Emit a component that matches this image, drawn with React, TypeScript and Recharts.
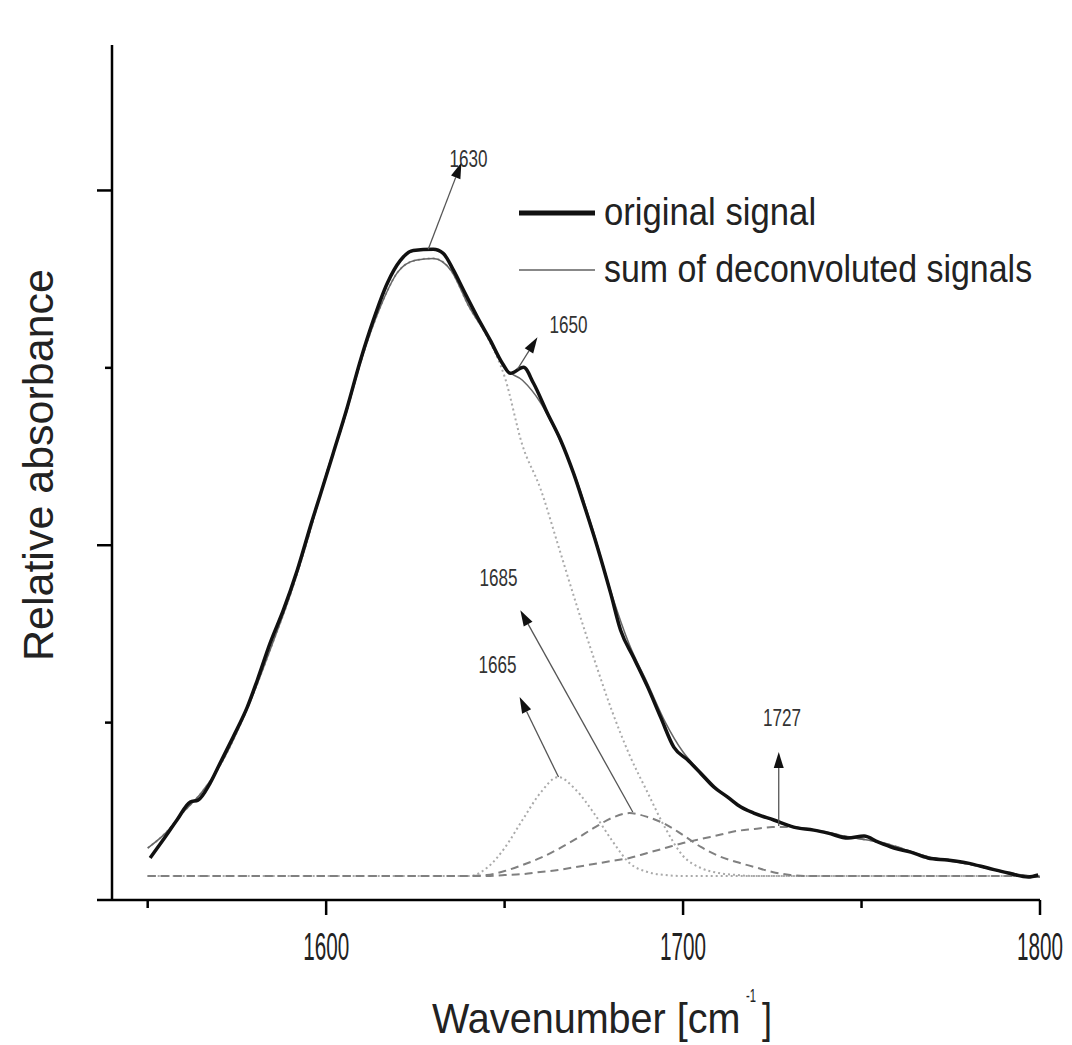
import { Line, LineChart, ReferenceDot, ReferenceLine, XAxis, YAxis } from "recharts";

const originalWn = [
	1550.7, 1554.3, 1558.2, 1561.9, 1564.1, 1567.5, 1570.3, 1573.9, 1577.9, 1580.7,
	1584.3, 1588.0, 1591.9, 1596.1, 1598.3, 1602.0, 1605.9, 1609.6, 1613.2, 1617.1,
	1620.8, 1624.4, 1630.0, 1632.8, 1635.7, 1638.5, 1642.4, 1646.0, 1649.4, 1651.6,
	1655.3, 1658.1, 1662.0, 1665.7, 1669.3, 1672.1, 1676.0, 1679.7, 1682.5, 1686.1,
	1690.1, 1693.7, 1697.4, 1701.3, 1704.9, 1708.6, 1712.5, 1716.2, 1719.8, 1725.4,
	1731.0, 1736.6, 1740.6, 1746.2, 1750.7, 1754.6, 1759.1, 1763.8, 1768.6, 1774.2,
	1779.8, 1785.4, 1791.1, 1796.7, 1799.5,
];
const originalAbs = [
	0.237, 0.338, 0.451, 0.552, 0.563, 0.659, 0.772, 0.918, 1.087, 1.239,
	1.448, 1.634, 1.859, 2.141, 2.28, 2.52, 2.777, 3.042, 3.268, 3.476,
	3.606, 3.662, 3.668, 3.645, 3.549, 3.437, 3.285, 3.155, 3.025, 2.969,
	3.003, 2.913, 2.744, 2.592, 2.406, 2.237, 1.989, 1.73, 1.521, 1.369,
	1.2, 1.031, 0.862, 0.789, 0.715, 0.637, 0.58, 0.524, 0.49, 0.451,
	0.411, 0.394, 0.377, 0.349, 0.361, 0.327, 0.293, 0.27, 0.237, 0.225,
	0.208, 0.18, 0.152, 0.13, 0.141,
];

// fit grid
const wavenumbers = [
	1550, 1555, 1560, 1565, 1570, 1575, 1580, 1585, 1590, 1595,
	1600, 1605, 1610, 1615, 1620, 1625, 1630, 1635, 1640, 1645,
	1650, 1655, 1660, 1665, 1670, 1675, 1680, 1685, 1690, 1695,
	1700, 1705, 1710, 1715, 1720, 1725, 1730, 1735, 1740, 1745,
	1750, 1755, 1760, 1765, 1770, 1775, 1780, 1785, 1790, 1795, 1800,
];
const sumOfBands = [
	0.293, 0.377, 0.496, 0.603, 0.749, 0.946, 1.183, 1.448, 1.724, 2.045,
	2.4, 2.704, 3.054, 3.335, 3.538, 3.606, 3.617, 3.549, 3.346, 3.183,
	2.997, 2.93, 2.806, 2.614, 2.377, 2.068, 1.724, 1.437, 1.223, 1.003,
	0.834, 0.721, 0.62, 0.541, 0.49, 0.451, 0.417, 0.4, 0.383, 0.361,
	0.344, 0.327, 0.299, 0.265, 0.237, 0.22, 0.203, 0.18, 0.158, 0.141, 0.13,
];
const band1630 = [
	0.293, 0.377, 0.496, 0.603, 0.749, 0.946, 1.183, 1.448, 1.724, 2.045,
	2.4, 2.704, 3.054, 3.335, 3.538, 3.606, 3.617, 3.549, 3.346, 3.18,
	2.95, 2.563, 2.321, 2.0, 1.673, 1.363, 1.07, 0.817, 0.608, 0.406,
	0.248, 0.18, 0.152, 0.141, 0.135, 0.135, 0.135, 0.135, 0.135, 0.135,
	0.135, 0.135, 0.135, 0.135, 0.135, 0.135, 0.135, 0.135, 0.135, 0.135, 0.135,
];
const band1665 = [
	0.135, 0.135, 0.135, 0.135, 0.135, 0.135, 0.135, 0.135, 0.135, 0.135,
	0.135, 0.135, 0.135, 0.135, 0.135, 0.135, 0.135, 0.135, 0.135, 0.18,
	0.293, 0.451, 0.603, 0.693, 0.62, 0.49, 0.338, 0.208, 0.158, 0.141,
	0.135, 0.135, 0.135, 0.135, 0.135, 0.135, 0.135, 0.135, 0.135, 0.135,
	0.135, 0.135, 0.135, 0.135, 0.135, 0.135, 0.135, 0.135, 0.135, 0.135, 0.135,
];
const band1685 = [
	0.135, 0.135, 0.135, 0.135, 0.135, 0.135, 0.135, 0.135, 0.135, 0.135,
	0.135, 0.135, 0.135, 0.135, 0.135, 0.135, 0.135, 0.135, 0.135, 0.141,
	0.163, 0.197, 0.237, 0.287, 0.344, 0.406, 0.462, 0.49, 0.468, 0.428,
	0.366, 0.299, 0.248, 0.214, 0.186, 0.158, 0.141, 0.135, 0.135, 0.135,
	0.135, 0.135, 0.135, 0.135, 0.135, 0.135, 0.135, 0.135, 0.135, 0.135, 0.135,
];
const band1727 = [
	0.135, 0.135, 0.135, 0.135, 0.135, 0.135, 0.135, 0.135, 0.135, 0.135,
	0.135, 0.135, 0.135, 0.135, 0.135, 0.135, 0.135, 0.135, 0.135, 0.135,
	0.141, 0.146, 0.158, 0.169, 0.186, 0.203, 0.22, 0.237, 0.265, 0.293,
	0.321, 0.344, 0.366, 0.389, 0.4, 0.411, 0.411, 0.4, 0.383, 0.361,
	0.344, 0.327, 0.299, 0.265, 0.237, 0.22, 0.203, 0.18, 0.158, 0.141, 0.13,
];

const xTicks = [1550, 1600, 1650, 1700, 1750, 1800];
const yTicks = [1, 2, 3, 4];

// peak annotations: arrow from (fromWn, fromAbs) to (toWn, toAbs), label at (labelWn, labelAbs)
const peakLabels = ["1630", "1650", "1685", "1665", "1727"];
const arrowFromWn = [1628.6, 1653.6, 1685.9, 1665.1, 1726.8];
const arrowFromAbs = [3.668, 2.992, 0.496, 0.693, 0.417];
const arrowToWn = [1637.9, 1659.2, 1654.4, 1654.2, 1726.8];
const arrowToAbs = [4.158, 3.172, 1.634, 1.144, 0.834];
const labelWn = [1639.9, 1667.9, 1648.3, 1648.0, 1727.7];
const labelAbs = [4.18, 3.24, 1.814, 1.324, 1.025];

const FONT = "'Liberation Sans', Arial, sans-serif";

const table = wavenumbers.map((wn, i) => ({
	wn,
	sum: sumOfBands[i],
	b1630: band1630[i],
	b1665: band1665[i],
	b1685: band1685[i],
	b1727: band1727[i],
}));
const original = originalWn.map((wn, i) => ({ wn, v: originalAbs[i] }));

// the figure uses a narrow face; squeeze Liberation Sans horizontally
// em = text advance in em units (Arial metrics)
function Narrow(props: {
	x: number;
	y: number;
	width: number;
	em: number;
	size: number;
	anchor?: "start" | "middle" | "end";
	fill?: string;
	children: any;
}) {
	const { x, y, width, em, size, anchor = "start", fill = "#222", children } = props;
	const sx = width / (em * size);
	return (
		<text
			transform={`translate(${x},${y}) scale(${sx.toFixed(3)},1)`}
			textAnchor={anchor}
			fontFamily={FONT}
			fontSize={size}
			fill={fill}
		>
			{children}
		</text>
	);
}

function XTick(props: any) {
	const { x, y, payload } = props;
	const major = payload.value % 100 === 0;
	return (
		<g>
			<line x1={x} x2={x} y1={y} y2={y + (major ? 15 : 8)} stroke="#000" strokeWidth={2.5} />
			{major && (
				<Narrow x={x} y={y + 60} width={46} em={2.224} size={38} anchor="middle">
					{payload.value}
				</Narrow>
			)}
		</g>
	);
}

function YTick(props: any) {
	const { x, y, payload } = props;
	const len = payload.value % 2 === 0 ? 15 : 7;
	return <line x1={x - len} x2={x} y1={y} y2={y} stroke="#000" strokeWidth={2.5} />;
}

function Arrow(props: any) {
	const { x1, y1, x2, y2 } = props;
	const dx = x2 - x1;
	const dy = y2 - y1;
	const len = Math.hypot(dx, dy);
	const ux = dx / len;
	const uy = dy / len;
	const bx = x2 - ux * 16;
	const by = y2 - uy * 16;
	const nx = -uy * 5;
	const ny = ux * 5;
	return (
		<g>
			<line x1={x1} y1={y1} x2={bx} y2={by} stroke="#555" strokeWidth={1.3} />
			<polygon points={`${x2},${y2} ${bx + nx},${by + ny} ${bx - nx},${by - ny}`} fill="#111" />
		</g>
	);
}

function XTitle(props: any) {
	const { viewBox } = props;
	const left = viewBox.x + 320;
	const base = viewBox.y + 133;
	return (
		<g>
			<Narrow x={left} y={base} width={310} em={7.835} size={42}>
				Wavenumber [cm
			</Narrow>
			<Narrow x={left + 314} y={base - 31} width={10} em={0.889} size={18}>
				-1
			</Narrow>
			<Narrow x={left + 330} y={base} width={10} em={0.278} size={42}>
				]
			</Narrow>
		</g>
	);
}

function YTitle() {
	return (
		<text
			x={53}
			y={465}
			transform="rotate(-90 53 465)"
			textAnchor="middle"
			fontFamily={FONT}
			fontSize={43}
			fill="#222"
		>
			Relative absorbance
		</text>
	);
}

export default function App() {
	return (
		<div style={{ position: "absolute", left: 0, top: 0, width: 1072, height: 1045, background: "#fff" }}>
			<LineChart
				width={1072}
				height={1045}
				data={table}
				margin={{ top: 45, right: 32, bottom: 0, left: 0 }}
			>
				<XAxis
					type="number"
					dataKey="wn"
					domain={[1540, 1800]}
					ticks={xTicks}
					height={145}
					tickSize={0}
					tickMargin={0}
					tickLine={false}
					tick={<XTick />}
					axisLine={{ stroke: "#000", strokeWidth: 2.5 }}
					allowDataOverflow
					label={<XTitle />}
				/>
				<YAxis
					type="number"
					domain={[0, 4.82]}
					ticks={yTicks}
					width={112}
					tickSize={0}
					tickMargin={0}
					tickLine={false}
					tick={<YTick />}
					axisLine={{ stroke: "#000", strokeWidth: 2.5 }}
					allowDataOverflow
					label={<YTitle />}
				/>
				<ReferenceLine
					segment={[
						{ x: 1535.8, y: 0 },
						{ x: 1540, y: 0 },
					]}
					stroke="#000"
					strokeWidth={2.5}
					ifOverflow="visible"
				/>
				<Line type="monotone" dataKey="b1630" stroke="#aaa" strokeWidth={2} strokeDasharray="2 3" dot={false} isAnimationActive={false} />
				<Line type="monotone" dataKey="b1665" stroke="#aaa" strokeWidth={2} strokeDasharray="2 3" dot={false} isAnimationActive={false} />
				<Line type="monotone" dataKey="b1685" stroke="#808080" strokeWidth={2} strokeDasharray="8 5" dot={false} isAnimationActive={false} />
				<Line type="monotone" dataKey="b1727" stroke="#808080" strokeWidth={2} strokeDasharray="8 5" dot={false} isAnimationActive={false} />
				<Line type="monotone" dataKey="sum" stroke="#666" strokeWidth={1.5} dot={false} isAnimationActive={false} />
				<Line
					type="monotone"
					data={original}
					dataKey="v"
					stroke="#111"
					strokeWidth={3.5}
					dot={false}
					isAnimationActive={false}
				/>
				{peakLabels.map((lab, i) => (
					<ReferenceLine
						key={`a${lab}`}
						segment={[
							{ x: arrowFromWn[i], y: arrowFromAbs[i] },
							{ x: arrowToWn[i], y: arrowToAbs[i] },
						]}
						shape={<Arrow />}
					/>
				))}
				{peakLabels.map((lab, i) => (
					<ReferenceDot
						key={`t${lab}`}
						x={labelWn[i]}
						y={labelAbs[i]}
						r={0}
						shape={(p: any) => (
							<Narrow x={p.cx} y={p.cy + 8} width={38} em={2.224} size={24} anchor="middle" fill="#333">
								{lab}
							</Narrow>
						)}
					/>
				))}
			</LineChart>
			<svg
				width={1072}
				height={1045}
				style={{ position: "absolute", left: 0, top: 0, pointerEvents: "none" }}
			>
				<line x1={519} x2={595} y1={213} y2={213} stroke="#111" strokeWidth={5} />
				<Narrow x={604} y={225} width={212} em={6.113} size={38}>
					original signal
				</Narrow>
				<line x1={519} x2={595} y1={270} y2={270} stroke="#888" strokeWidth={2} />
				<Narrow x={604} y={282} width={428} em={12.617} size={38}>
					sum of deconvoluted signals
				</Narrow>
			</svg>
		</div>
	);
}
